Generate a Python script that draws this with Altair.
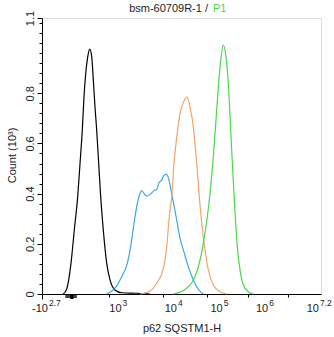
import math
import altair as alt
import pandas as pd

# x values are positions on the cytometer's display axis, in decades (10^k sits at k)
black_x = [1.984, 2.046, 2.123, 2.183, 2.244, 2.286, 2.327, 2.358, 2.389, 2.425, 2.461, 2.497,
           2.526, 2.556, 2.587, 2.623, 2.659, 2.706, 2.768, 2.827, 2.917, 3.038, 3.30, 3.549]
black_y = [0, 0.02, 0.122, 0.255, 0.388, 0.52, 0.653, 0.786, 0.879, 0.945, 0.976, 0.945,
           0.853, 0.746, 0.653, 0.52, 0.388, 0.255, 0.122, 0.056, 0.016, 0.005, 0.003, 0.0]

blue_x = [2.768, 2.917, 3.038, 3.139, 3.200, 3.260, 3.309, 3.350, 3.399, 3.441, 3.489, 3.561,
          3.621, 3.670, 3.711, 3.760, 3.801, 3.850, 3.892, 3.928, 3.969, 4.037, 4.110, 4.197,
          4.292, 4.401, 4.511, 4.621]
blue_y = [0, 0.023, 0.069, 0.122, 0.188, 0.282, 0.348, 0.388, 0.412, 0.401, 0.39, 0.398,
          0.412, 0.417, 0.443, 0.454, 0.473, 0.477, 0.454, 0.414, 0.367, 0.295, 0.223, 0.167,
          0.109, 0.056, 0.019, 0]

orange_x = [3.368, 3.549, 3.670, 3.789, 3.850, 3.897, 3.941, 3.982, 4.037, 4.110, 4.182, 4.263,
            4.329, 4.401, 4.476, 4.533, 4.586, 4.658, 4.730, 4.840, 4.987, 5.133]
orange_y = [0, 0.012, 0.043, 0.1, 0.188, 0.308, 0.388, 0.521, 0.622, 0.72, 0.763, 0.786,
            0.746, 0.667, 0.521, 0.388, 0.282, 0.175, 0.096, 0.036, 0.009, 0]

green_x = [3.964, 4.182, 4.329, 4.439, 4.548, 4.621, 4.708, 4.783, 4.840, 4.893, 4.950, 5.002,
           5.059, 5.118, 5.169, 5.221, 5.265, 5.316, 5.366, 5.425, 5.498, 5.607, 5.717]
green_y = [0, 0.013, 0.036, 0.069, 0.135, 0.202, 0.308, 0.427, 0.547, 0.680, 0.826, 0.932,
           0.992, 0.945, 0.839, 0.653, 0.494, 0.322, 0.188, 0.096, 0.036, 0.009, 0]

series_names = ["isotype", "p62 low", "p62 mid", "p62 high"]
series_colors = ["#000000", "#38a9dc", "#f2a46c", "#4cd64c"]

# axis ticks (decade positions)
x_major = [1.6, 3, 4, 5, 6, 7]
x_minor_low = [1.865, 2.069, 2.376, 2.484, 2.587, 2.677, 2.755, 2.809, 2.858, 2.881]
x_minor = x_minor_low + [k + math.log10(m) for k in range(3, 7) for m in range(2, 10)]
x_label_pos = [1.6, 3, 4, 5, 6, 7.2]
x_label_base = ["-10", "10", "10", "10", "10", "10"]
x_label_exp = ["2.7", "3", "4", "5", "6", "7.2"]

y_ticks = [round(i * 0.04, 2) for i in range(28)] + [1.1]
y_labeled = [0, 0.2, 0.4, 0.6, 0.8, 1.1]

gate_lo, gate_hi = [2.02], [2.23]
gate_mark_lo, gate_mark_hi = [2.11], [2.17]

FONT = "Liberation Sans"
W, H = 279, 276

rows = []
for name, xs, ys in zip(series_names, [black_x, blue_x, orange_x, green_x],
                        [black_y, blue_y, orange_y, green_y]):
    for i, (a, b) in enumerate(zip(xs, ys)):
        rows.append({"series": name, "pos": a, "count": b, "order": i})
df = pd.DataFrame(rows)

xscale = alt.Scale(domain=[1.6, 4, 7.2], range=[0, 133, W], nice=False, zero=False)
yscale = alt.Scale(domain=[0, 1.1], nice=False, zero=False)

lab_list = "[" + ",".join(str(v) for v in y_labeled) + "]"
y_major_test = f"indexof({lab_list}, round(datum.value*100)/100) >= 0"
x_major_test = "datum.value == 1.6 || abs(datum.value - round(datum.value)) < 0.001"

lines = alt.Chart(df).mark_line(strokeWidth=1.2, interpolate="monotone").encode(
    x=alt.X("pos:Q", scale=xscale,
            axis=alt.Axis(values=sorted(x_major + x_minor), labels=False, grid=False,
                          tickColor="black", domainColor="black",
                          tickSize={"condition": {"test": x_major_test, "value": 5}, "value": 3},
                          title="p62 SQSTM1-H", titleFont=FONT, titleFontSize=11,
                          titleFontWeight="normal", titleColor="#222",
                          titleBaseline="alphabetic", titleY=37)),
    y=alt.Y("count:Q", scale=yscale,
            axis=alt.Axis(values=y_ticks, format=".1~f", grid=False,
                          labelExpr=f"{y_major_test} ? datum.label : ''",
                          tickColor="black", domainColor="black",
                          tickSize={"condition": {"test": y_major_test, "value": 5}, "value": 3},
                          labelAngle=270, labelAlign="center", labelBaseline="bottom",
                          labelPadding=2, labelFont=FONT, labelFontSize=11, labelColor="#222",
                          labelOverlap=False, labelFlush=False,
                          title="Count (10³)", titleFont=FONT, titleFontSize=11,
                          titleFontWeight="normal", titleColor="#222", titleAngle=270,
                          titleAlign="center", titleBaseline="bottom", titleX=-25, titleY=137)),
    color=alt.Color("series:N", scale=alt.Scale(domain=series_names, range=series_colors),
                    legend=None),
    order="order:Q",
    detail="series:N",
)

gate_df = pd.DataFrame({"lo": gate_lo, "hi": gate_hi})
gate = alt.Chart(gate_df).mark_rect(color="#444").encode(
    x=alt.X("lo:Q", scale=xscale), x2="hi:Q", y=alt.value(H + 1), y2=alt.value(H + 4))
gate_m_df = pd.DataFrame({"lo": gate_mark_lo, "hi": gate_mark_hi})
gate_m = alt.Chart(gate_m_df).mark_rect(color="#000").encode(
    x=alt.X("lo:Q", scale=xscale), x2="hi:Q", y=alt.value(H + 1), y2=alt.value(H + 5))

lab_df = pd.DataFrame({"pos": x_label_pos, "base": x_label_base, "exp": x_label_exp})
groups = [
    (lambda d: d[(d.pos > 2) & (d.pos < 7.1)], 2, 3),
    (lambda d: d[d.pos < 2], 6, 7),
    (lambda d: d[d.pos > 7.1], -2, -1),
]
label_layers = []
for sel, dxb, dxe in groups:
    sub = sel(lab_df)
    label_layers.append(alt.Chart(sub).mark_text(
        align="right", baseline="alphabetic", font=FONT, fontSize=11, color="#222", dx=dxb
    ).encode(x=alt.X("pos:Q", scale=xscale), y=alt.value(H + 18), text="base:N"))
    label_layers.append(alt.Chart(sub).mark_text(
        align="left", baseline="alphabetic", font=FONT, fontSize=8.5, color="#222", dx=dxe
    ).encode(x=alt.X("pos:Q", scale=xscale), y=alt.value(H + 12), text="exp:N"))

title_parts = pd.DataFrame({"t": ["bsm-60709R-1 /"]})
title_black = alt.Chart(title_parts).mark_text(
    align="right", baseline="alphabetic", font=FONT, fontSize=11, color="#222"
).encode(x=alt.value(166), y=alt.value(-6), text="t:N")
title_green = alt.Chart(pd.DataFrame({"t": ["P1"]})).mark_text(
    align="left", baseline="alphabetic", font=FONT, fontSize=11, color="#44d844"
).encode(x=alt.value(171), y=alt.value(-6), text="t:N")

chart = alt.layer(lines, gate, gate_m, *label_layers, title_black, title_green).properties(
    width=W, height=H,
    autosize="none",
    padding={"left": 42, "top": 18, "right": 13, "bottom": 43},
).configure_view(stroke="black", strokeWidth=1).configure(background="white")

chart.save("out.html", embed_options={"renderer": "svg", "actions": False})
